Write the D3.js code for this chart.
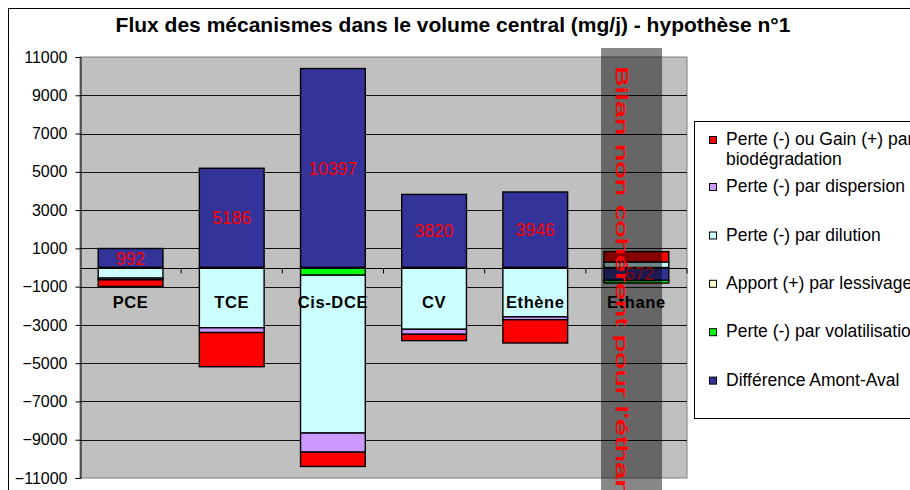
<!DOCTYPE html>
<html>
<head>
<meta charset="utf-8">
<script src="https://cdn.jsdelivr.net/npm/d3@7"></script>
<style>
  html, body { margin: 0; padding: 0; background: #fff; }
  svg { display: block; font-family: Arial, "Liberation Sans", sans-serif; }
</style>
</head>
<body>
<svg id="chart" width="910" height="490"></svg>
<script>
// Substances along the column axis
const categories = ["PCE", "TCE", "Cis-DCE", "CV", "Ethène", "Ethane"];

// Mass fluxes (mg/j), listed in stacking order from the zero line outward
const diffAmontAval   = [992, 5186, 10397, 3820, 3946, -672];
const volatilisation  = [0, 0, -400, 0, 0, -140];
const lessivage       = [0, 0, 0, 0, 0, 0];
const dilution        = [-555, -3150, -8250, -3230, -2580, 290];
const dispersion      = [-90, -250, -1000, -260, -150, 0];
const biodegradation  = [-347, -1786, -747, -330, -1216, 540];

// Value-axis ticks
const yTicks = [11000, 9000, 7000, 5000, 3000, 1000, -1000, -3000, -5000, -7000, -9000, -11000];

const seriesDefs = [
  { key: "diff",    values: diffAmontAval,  color: "#333399", label: "Différence Amont-Aval" },
  { key: "volat",   values: volatilisation, color: "#00ff00", label: "Perte (-) par volatilisation" },
  { key: "lessiv",  values: lessivage,      color: "#ffffcc", label: "Apport (+) par lessivage" },
  { key: "dilut",   values: dilution,       color: "#ccffff", label: "Perte (-) par dilution" },
  { key: "disper",  values: dispersion,     color: "#cc99ff", label: "Perte (-) par dispersion" },
  { key: "biodeg",  values: biodegradation, color: "#ff0000", label: ["Perte (-) ou Gain (+) par", "biodégradation"] }
];

const rows = categories.map((c, i) => {
  const r = { cat: c };
  seriesDefs.forEach(s => r[s.key] = s.values[i]);
  return r;
});

const svg = d3.select("#chart");

// Outer chart frame
svg.append("rect")
  .attr("x", 8.5).attr("y", 8.5)
  .attr("width", 960).attr("height", 520)
  .attr("fill", "#fff").attr("stroke", "#000").attr("stroke-width", 1);

// Title
svg.append("text")
  .attr("x", 453).attr("y", 31.5)
  .attr("text-anchor", "middle")
  .attr("font-size", 21).attr("font-weight", "bold")
  .text("Flux des mécanismes dans le volume central (mg/j) - hypothèse n°1");

const plot = { left: 80, right: 687, top: 57, bottom: 478 };

const x = d3.scaleBand()
  .domain(categories)
  .range([plot.left, plot.right])
  .paddingInner(0.36)
  .paddingOuter(0.18);

const y = d3.scaleLinear()
  .domain([-11000, 11000])
  .range([plot.bottom, plot.top]);

// Plot background
svg.append("rect")
  .attr("x", plot.left).attr("y", plot.top)
  .attr("width", plot.right - plot.left).attr("height", plot.bottom - plot.top)
  .attr("fill", "#c0c0c0").attr("stroke", "#808080").attr("stroke-width", 1);

// Horizontal gridlines
svg.append("g")
  .selectAll("line")
  .data(yTicks.slice(1, -1))
  .join("line")
  .attr("x1", plot.left).attr("x2", plot.right)
  .attr("y1", d => Math.round(y(d)) + 0.5).attr("y2", d => Math.round(y(d)) + 0.5)
  .attr("stroke", "#111").attr("stroke-width", 1);

// Value axis
const yAxis = d3.axisLeft(y).tickValues(yTicks).tickSize(5).tickPadding(8).tickFormat(d3.format("d"));
const yG = svg.append("g")
  .attr("transform", `translate(${plot.left + 0.5},0)`)
  .call(yAxis);
yG.select(".domain").attr("stroke", "#000");
yG.selectAll(".tick line").attr("stroke", "#000");
yG.selectAll(".tick text")
  .attr("font-size", 16).attr("fill", "#000")
  .attr("font-family", "Arial, 'Liberation Sans', sans-serif");

// Stacked columns (positives upward, negatives downward)
const stack = d3.stack()
  .keys(seriesDefs.map(s => s.key))
  .offset(d3.stackOffsetDiverging);
const stacked = stack(rows);

const barG = svg.append("g");
stacked.forEach((layer, li) => {
  barG.append("g")
    .selectAll("rect")
    .data(layer.filter(d => d[1] - d[0] !== 0))
    .join("rect")
    .attr("x", d => x(d.data.cat))
    .attr("width", x.bandwidth())
    .attr("y", d => y(d[1]))
    .attr("height", d => y(d[0]) - y(d[1]))
    .attr("fill", seriesDefs[li].color)
    .attr("stroke", "#000")
    .attr("stroke-width", 1.4);
});

// Category axis at zero with tick marks between columns
const y0 = Math.round(y(0)) + 0.5;
svg.append("line")
  .attr("x1", plot.left).attr("x2", plot.right)
  .attr("y1", y0).attr("y2", y0)
  .attr("stroke", "#000").attr("stroke-width", 1.2);
svg.append("g")
  .selectAll("line")
  .data(d3.range(1, categories.length + 1))
  .join("line")
  .attr("x1", i => plot.left + i * x.step())
  .attr("x2", i => plot.left + i * x.step())
  .attr("y1", y0).attr("y2", y0 + 5)
  .attr("stroke", "#000");

// Value labels of the upstream-downstream difference
svg.append("g")
  .selectAll("text")
  .data(stacked[0])
  .join("text")
  .attr("x", d => x(d.data.cat) + x.bandwidth() / 2)
  .attr("y", d => (y(d[0]) + y(d[1])) / 2 + 6.5)
  .attr("text-anchor", "middle")
  .attr("font-size", 17.5)
  .attr("fill", "#ff0000")
  .text(d => d.data.diff);

// Category labels
svg.append("g")
  .selectAll("text")
  .data(categories)
  .join("text")
  .attr("x", d => x(d) + x.bandwidth() / 2)
  .attr("y", 308)
  .attr("text-anchor", "middle")
  .attr("font-size", 16.5)
  .attr("font-weight", "bold")
  .attr("letter-spacing", 0.6)
  .text(d => d);

// Shaded band flagging the ethane column
svg.append("rect")
  .attr("x", x("Ethane") - 3)
  .attr("y", 48)
  .attr("width", 61)
  .attr("height", 450)
  .attr("fill", "#000")
  .attr("fill-opacity", 0.47);

svg.append("text")
  .attr("transform", "translate(616,66) rotate(90) scale(1.95,1)")
  .attr("font-size", 16)
  .attr("fill", "#ff0000")
  .attr("stroke", "#ff0000")
  .attr("stroke-width", 0.3)
  .text("Bilan non cohérent pour l'éthane");

// Legend
const legend = svg.append("g");
legend.append("rect")
  .attr("x", 694.5).attr("y", 121.5)
  .attr("width", 260).attr("height", 297)
  .attr("fill", "#fff").attr("stroke", "#000");

const legendOrder = seriesDefs.slice().reverse();
const legendBase = [145, 192, 240.5, 288.8, 337.2, 385.6];
legendOrder.forEach((s, i) => {
  const by = legendBase[i];
  legend.append("rect")
    .attr("x", 709.5).attr("y", by - 8.5)
    .attr("width", 7).attr("height", 7)
    .attr("fill", s.color).attr("stroke", "#000");
  const lines = Array.isArray(s.label) ? s.label : [s.label];
  const t = legend.append("text")
    .attr("font-size", 17.5)
    .attr("fill", "#000");
  lines.forEach((ln, k) => {
    t.append("tspan").attr("x", 726).attr("y", by + k * 19.5).text(ln);
  });
});
</script>
</body>
</html>
